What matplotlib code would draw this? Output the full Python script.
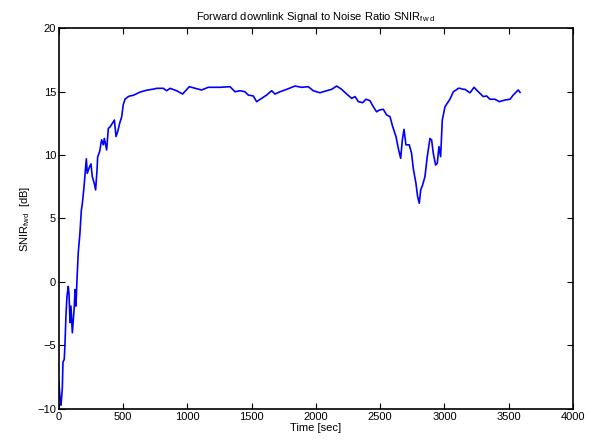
import matplotlib
matplotlib.use('agg')
import matplotlib.pyplot as plt

# time [sec] and forward SNIR [dB]
time_sec = [0, 8, 16, 22, 26, 31, 41, 47, 54, 62, 72, 78, 86, 93, 104, 111, 119, 125,
            132, 140, 150, 163, 174, 182, 195, 202, 213, 220, 233, 249, 259, 275, 285,
            296, 301, 316, 332, 345, 353, 371, 384, 397, 415, 431, 444, 457, 475, 488,
            500, 514, 540, 552, 578, 630, 682, 742, 760, 812, 838, 864, 916, 962, 1014,
            1071, 1110, 1162, 1253, 1331, 1370, 1409, 1447, 1473, 1512, 1538, 1577,
            1616, 1655, 1681, 1720, 1772, 1837, 1889, 1940, 1979, 2031, 2083, 2122,
            2161, 2200, 2239, 2278, 2304, 2330, 2363, 2389, 2420, 2446, 2472, 2493,
            2524, 2550, 2576, 2597, 2623, 2641, 2659, 2672, 2685, 2700, 2726, 2744,
            2757, 2778, 2791, 2804, 2815, 2830, 2848, 2866, 2887, 2900, 2913, 2931,
            2944, 2957, 2970, 2983, 3004, 3043, 3069, 3082, 3108, 3121, 3147, 3160,
            3186, 3199, 3230, 3263, 3302, 3328, 3354, 3393, 3426, 3471, 3510, 3535,
            3574, 3588]
snir_db = [-7.9, -9.2, -9.7, -8.9, -8.35, -6.3, -6.1, -4.8, -2.7, -1.15, -0.35, -0.9,
           -3.2, -1.9, -4.0, -3.0, -1.95, -0.6, -1.9, 0.15, 2.3, 3.85, 5.65, 6.2, 7.5,
           8.4, 9.7, 8.55, 8.95, 9.3, 8.3, 7.75, 7.25, 8.8, 9.85, 10.25, 11.2, 10.8,
           11.3, 10.4, 12.1, 12.2, 12.5, 12.75, 11.45, 11.85, 12.6, 13.0, 13.95, 14.4,
           14.6, 14.65, 14.7, 14.95, 15.1, 15.2, 15.25, 15.25, 15.06, 15.25, 15.06,
           14.8, 15.38, 15.22, 15.12, 15.33, 15.33, 15.38, 14.98, 15.06, 14.98, 14.72,
           14.65, 14.2, 14.46, 14.72, 15.06, 14.8, 14.98, 15.17, 15.43, 15.33, 15.38,
           15.06, 14.9, 15.06, 15.17, 15.43, 15.17, 14.8, 14.46, 14.6, 14.2, 14.12,
           14.39, 14.28, 13.8, 13.4, 13.54, 13.6, 13.15, 13.02, 12.23, 11.44, 10.5,
           9.74, 11.18, 12.02, 10.8, 10.8, 10.13, 8.95, 7.77, 6.72, 6.2, 7.25, 7.64,
           8.3, 9.87, 11.3, 11.18, 10.13, 9.21, 9.35, 10.66, 9.87, 12.75, 13.8, 14.4,
           14.98, 15.06, 15.25, 15.25, 15.17, 15.17, 14.98, 14.9, 15.33, 14.98, 14.6,
           14.65, 14.39, 14.39, 14.2, 14.33, 14.39, 14.72, 15.12, 14.93]

x_ticks = [0, 500, 1000, 1500, 2000, 2500, 3000, 3500, 4000]
y_ticks = [-10, -5, 0, 5, 10, 15, 20]

plt.rcParams['font.family'] = ['Liberation Sans', 'DejaVu Sans']
plt.rcParams['mathtext.fontset'] = 'custom'
plt.rcParams['mathtext.rm'] = 'Liberation Sans'
plt.rcParams['mathtext.it'] = 'Liberation Sans'

fig = plt.figure(figsize=(5.91, 4.41), dpi=100)
ax = fig.add_axes([0.0998, 0.0726, 0.8697, 0.8639])
ax.plot(time_sec, snir_db, color='#0000ff', linewidth=1.2)

ax.set_xlim(0, 4000)
ax.set_ylim(-10, 20)
ax.set_xticks(x_ticks)
ax.set_yticks(y_ticks)
ax.tick_params(direction='in', top=True, right=True, length=4, width=0.8,
               labelsize=8, pad=2)
for spine in ax.spines.values():
	spine.set_linewidth(1.2)

ax.set_title('Forward downlink Signal to Noise Ratio SNIR$_{\\mathrm{fw\\ d}}$',
             fontsize=8, pad=6)
ax.set_xlabel('Time [sec]', fontsize=8, labelpad=1)
ax.set_ylabel('SNIR$_{\\mathrm{fwd}}$  [dB]', fontsize=8, labelpad=4)

fig.savefig('out.png', dpi=100)
